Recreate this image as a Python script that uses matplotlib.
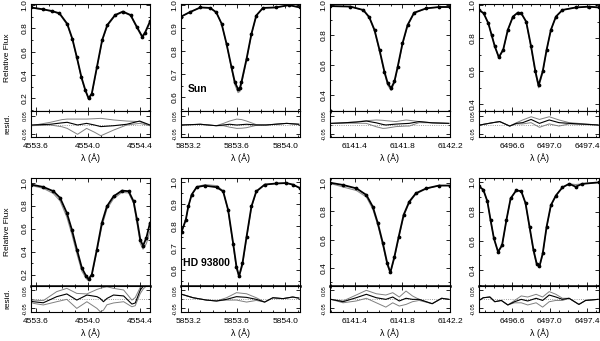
import matplotlib.pyplot as plt
from matplotlib.ticker import MultipleLocator

plt.rcParams['font.family'] = ['Liberation Sans', 'DejaVu Sans']

# ---- Sun: main panels (wavelength, observed flux, model flux)
sun_wl_1 = [4553.56, 4553.65, 4553.72, 4553.78, 4553.84, 4553.88, 4553.915, 4553.95, 4553.98,
            4554.005, 4554.03, 4554.07, 4554.11, 4554.15, 4554.21, 4554.27, 4554.33, 4554.38,
            4554.42, 4554.44, 4554.48]
sun_obs_1 = [0.98, 0.965, 0.95, 0.93, 0.84, 0.71, 0.55, 0.38, 0.27, 0.20, 0.24, 0.47, 0.70, 0.83,
             0.915, 0.945, 0.915, 0.81, 0.73, 0.76, 0.86]
sun_mod_1 = [0.978, 0.962, 0.947, 0.925, 0.83, 0.70, 0.54, 0.37, 0.26, 0.19, 0.23, 0.46, 0.69, 0.82,
             0.91, 0.94, 0.91, 0.80, 0.72, 0.75, 0.85]

sun_wl_2 = [5853.14, 5853.21, 5853.30, 5853.38, 5853.43, 5853.474, 5853.515, 5853.556, 5853.583,
            5853.61, 5853.625, 5853.638, 5853.68, 5853.72, 5853.76, 5853.815, 5853.92, 5854.03, 5854.12]
sun_obs_2 = [0.95, 0.969, 0.99, 0.988, 0.969, 0.92, 0.832, 0.73, 0.666, 0.635, 0.64, 0.666, 0.767,
             0.875, 0.955, 0.988, 0.99, 1.0, 0.99]
sun_mod_2 = [0.95, 0.969, 0.99, 0.988, 0.969, 0.92, 0.83, 0.725, 0.655, 0.62, 0.625, 0.655, 0.76,
             0.872, 0.955, 0.988, 0.99, 1.0, 0.99]

sun_wl_3 = [6141.19, 6141.36, 6141.47, 6141.52, 6141.565, 6141.607, 6141.648, 6141.676, 6141.704,
            6141.732, 6141.76, 6141.80, 6141.843, 6141.898, 6142.0, 6142.11, 6142.2]
sun_obs_3 = [0.993, 0.99, 0.967, 0.92, 0.833, 0.70, 0.556, 0.478, 0.445, 0.49, 0.589, 0.744, 0.867,
             0.949, 0.978, 0.987, 0.987]
sun_mod_3 = [0.993, 0.99, 0.965, 0.915, 0.825, 0.69, 0.545, 0.465, 0.43, 0.48, 0.58, 0.735, 0.86,
             0.945, 0.977, 0.987, 0.987]

sun_wl_4 = [6496.24, 6496.29, 6496.34, 6496.375, 6496.41, 6496.453, 6496.50, 6496.55, 6496.605,
            6496.658, 6496.694, 6496.747, 6496.80, 6496.846, 6496.88, 6496.925, 6496.967, 6497.013,
            6497.067, 6497.137, 6497.28, 6497.42, 6497.53]
sun_obs_4 = [0.97, 0.95, 0.89, 0.82, 0.75, 0.685, 0.73, 0.85, 0.93, 0.954, 0.95, 0.90, 0.75, 0.60,
             0.515, 0.60, 0.73, 0.85, 0.93, 0.97, 0.985, 0.99, 0.985]
sun_mod_4 = [0.97, 0.95, 0.89, 0.82, 0.75, 0.68, 0.725, 0.85, 0.93, 0.954, 0.95, 0.895, 0.74, 0.59,
             0.50, 0.59, 0.725, 0.85, 0.93, 0.97, 0.985, 0.99, 0.985]

# ---- HD 93800: main panels
hd_wl_1 = [4553.56, 4553.655, 4553.733, 4553.785, 4553.837, 4553.876, 4553.915, 4553.953, 4553.987,
           4554.005, 4554.03, 4554.069, 4554.108, 4554.147, 4554.198, 4554.263, 4554.315, 4554.353,
           4554.379, 4554.405, 4554.426, 4554.452, 4554.48]
hd_obs_1 = [0.983, 0.962, 0.925, 0.867, 0.736, 0.59, 0.417, 0.258, 0.185, 0.16, 0.20, 0.417, 0.65,
            0.794, 0.88, 0.93, 0.925, 0.837, 0.68, 0.504, 0.45, 0.52, 0.65]
hd_mod_1 = [0.975, 0.95, 0.905, 0.84, 0.70, 0.55, 0.38, 0.23, 0.165, 0.145, 0.19, 0.40, 0.62, 0.77,
            0.86, 0.915, 0.91, 0.82, 0.65, 0.47, 0.42, 0.47, 0.58]

hd_wl_2 = [5853.145, 5853.18, 5853.20, 5853.228, 5853.27, 5853.337, 5853.433, 5853.487, 5853.528,
           5853.57, 5853.597, 5853.618, 5853.646, 5853.68, 5853.72, 5853.76, 5853.83, 5853.925,
           5854.007, 5854.06, 5854.12]
hd_obs_2 = [0.775, 0.83, 0.89, 0.944, 0.979, 0.985, 0.978, 0.959, 0.875, 0.72, 0.615, 0.572, 0.63,
            0.752, 0.89, 0.959, 0.99, 0.995, 0.997, 0.99, 0.974]
hd_mod_2 = [0.775, 0.83, 0.89, 0.944, 0.98, 0.99, 0.985, 0.962, 0.87, 0.71, 0.605, 0.565, 0.62,
            0.745, 0.885, 0.957, 0.99, 0.995, 0.997, 0.99, 0.974]

hd_wl_3 = [6141.19, 6141.30, 6141.413, 6141.496, 6141.55, 6141.593, 6141.635, 6141.672, 6141.698,
           6141.732, 6141.768, 6141.81, 6141.857, 6141.913, 6142.0, 6142.107, 6142.2]
hd_obs_3 = [1.0, 0.984, 0.96, 0.914, 0.832, 0.715, 0.575, 0.434, 0.37, 0.48, 0.62, 0.775, 0.867,
            0.926, 0.96, 0.98, 0.98]
hd_mod_3 = [0.995, 0.97, 0.945, 0.90, 0.815, 0.70, 0.56, 0.42, 0.365, 0.47, 0.61, 0.765, 0.86,
            0.92, 0.958, 0.98, 0.98]

hd_wl_4 = [6496.24, 6496.286, 6496.33, 6496.364, 6496.40, 6496.445, 6496.488, 6496.535, 6496.58,
           6496.64, 6496.694, 6496.74, 6496.783, 6496.826, 6496.86, 6496.89, 6496.925, 6496.967,
           6497.013, 6497.067, 6497.137, 6497.21, 6497.28, 6497.35, 6497.53]
hd_obs_4 = [0.972, 0.95, 0.87, 0.743, 0.617, 0.524, 0.57, 0.743, 0.89, 0.945, 0.94, 0.858, 0.697,
            0.536, 0.444, 0.425, 0.513, 0.697, 0.844, 0.91, 0.966, 0.99, 0.97, 0.99, 1.0]
hd_mod_4 = [0.972, 0.95, 0.87, 0.743, 0.617, 0.52, 0.565, 0.74, 0.89, 0.945, 0.94, 0.855, 0.69,
            0.525, 0.435, 0.42, 0.505, 0.69, 0.84, 0.91, 0.966, 0.99, 0.985, 0.99, 1.0]

# ---- residuals (wavelength, middle model, upper, lower)
sun_rwl_1 = [4553.56, 4553.71, 4553.80, 4553.84, 4553.92, 4553.99, 4554.05, 4554.10, 4554.20,
             4554.30, 4554.40, 4554.48]
sun_rmid_1 = [0.0, 0.004, 0.012, 0.015, 0.0, 0.009, 0.0, -0.009, -0.004, 0.004, 0.022, 0.0]
sun_rup_1 = [-0.004, 0.015, 0.030, 0.033, 0.033, 0.033, 0.035, 0.037, 0.028, 0.022, 0.019, -0.004]
sun_rlo_1 = [-0.004, 0.0, -0.010, -0.019, -0.052, -0.019, -0.040, -0.060, -0.028, 0.0, 0.009, -0.004]

sun_rwl_2 = [5853.146, 5853.30, 5853.43, 5853.49, 5853.54, 5853.60, 5853.64, 5853.68, 5853.76,
             5853.84, 5854.01, 5854.11]
sun_rmid_2 = [0.0, 0.004, -0.004, 0.0, 0.004, 0.0, 0.002, 0.004, 0.0, 0.0, 0.009, 0.004]
sun_rup_2 = [0.0, 0.004, -0.004, 0.009, 0.022, 0.033, 0.030, 0.022, 0.002, 0.0, 0.009, 0.004]
sun_rlo_2 = [0.0, 0.004, -0.004, -0.004, -0.012, -0.019, -0.018, -0.015, -0.002, 0.0, 0.009, 0.004]

sun_rwl_3 = [6141.198, 6141.30, 6141.41, 6141.496, 6141.58, 6141.635, 6141.66, 6141.746, 6141.773,
             6141.83, 6141.857, 6141.94, 6142.05, 6142.19]
sun_rmid_3 = [0.009, 0.012, 0.016, 0.022, 0.012, 0.003, 0.0, 0.005, 0.006, 0.008, 0.009, 0.019,
              0.012, 0.009]
sun_rup_3 = [0.009, 0.012, 0.018, 0.024, 0.028, 0.026, 0.024, 0.019, 0.022, 0.028, 0.026, 0.019,
             0.012, 0.009]
sun_rlo_3 = [0.009, 0.010, 0.010, 0.009, -0.010, -0.019, -0.018, -0.009, -0.008, -0.006, -0.006,
             0.013, 0.012, 0.009]

sun_rwl_4 = [6496.25, 6496.39, 6496.463, 6496.57, 6496.64, 6496.71, 6496.80, 6496.89, 6496.995,
             6497.10, 6497.21, 6497.52]
sun_rmid_4 = [0.0, 0.013, 0.019, -0.006, 0.009, 0.013, 0.031, 0.009, 0.028, 0.013, 0.009, 0.0]
sun_rup_4 = [0.0, 0.013, 0.019, -0.006, 0.012, 0.028, 0.046, 0.031, 0.046, 0.028, 0.013, 0.0]
sun_rlo_4 = [0.0, 0.013, 0.019, -0.006, 0.006, 0.006, 0.013, -0.013, 0.006, -0.006, 0.006, 0.0]

hd_rwl_1 = [4553.56, 4553.578, 4553.655, 4553.759, 4553.837, 4553.914, 4553.992, 4554.07, 4554.095,
            4554.12, 4554.147, 4554.198, 4554.276, 4554.34, 4554.366, 4554.405, 4554.43, 4554.48]
hd_rmid_1 = [-0.01, -0.013, -0.019, 0.015, 0.030, -0.004, 0.024, 0.015, 0.005, -0.013, 0.005, 0.024,
             0.019, -0.026, -0.020, 0.052, 0.075, 0.09]
hd_rup_1 = [-0.005, -0.004, -0.007, 0.043, 0.061, 0.033, 0.030, 0.055, 0.061, 0.066, 0.070, 0.061,
            0.052, -0.004, 0.010, 0.067, 0.09, 0.1]
hd_rlo_1 = [-0.015, -0.022, -0.031, -0.013, 0.0, -0.050, -0.013, -0.050, -0.068, -0.06, -0.030,
            -0.020, -0.013, -0.041, -0.035, 0.033, 0.06, 0.09]

hd_rwl_2 = [5853.146, 5853.24, 5853.35, 5853.433, 5853.515, 5853.597, 5853.68, 5853.76, 5853.829,
            5853.897, 5853.98, 5854.06, 5854.11]
hd_rmid_2 = [0.028, 0.009, -0.004, -0.009, 0.0, 0.015, 0.011, 0.0, -0.015, 0.009, 0.004, 0.013, 0.007]
hd_rup_2 = [0.028, 0.009, -0.004, -0.009, 0.009, 0.037, 0.031, 0.009, -0.015, 0.009, 0.004, 0.013, 0.007]
hd_rlo_2 = [0.028, 0.009, -0.004, -0.009, -0.004, -0.004, -0.015, -0.006, -0.015, 0.009, 0.004, 0.013,
            0.007]

hd_rwl_3 = [6141.198, 6141.30, 6141.41, 6141.496, 6141.58, 6141.66, 6141.718, 6141.773, 6141.83,
            6141.884, 6141.94, 6142.05, 6142.13, 6142.19]
hd_rmid_3 = [0.0, -0.013, 0.009, 0.028, 0.009, 0.0, 0.013, -0.009, 0.006, 0.0, 0.0, -0.024, 0.006, 0.0]
hd_rup_3 = [0.0, -0.009, 0.024, 0.050, 0.031, 0.024, 0.037, 0.013, 0.046, 0.019, 0.0, -0.024, 0.006, 0.0]
hd_rlo_3 = [0.0, -0.019, -0.009, 0.006, -0.019, -0.043, -0.019, -0.037, -0.028, -0.013, -0.006,
            -0.024, 0.006, 0.0]

hd_rwl_4 = [6496.24, 6496.286, 6496.357, 6496.41, 6496.48, 6496.55, 6496.623, 6496.694, 6496.764,
            6496.854, 6496.924, 6496.995, 6497.067, 6497.137, 6497.208, 6497.314, 6497.386, 6497.52]
hd_rmid_4 = [-0.006, 0.009, 0.013, -0.013, -0.006, -0.031, -0.013, 0.0, -0.009, 0.006, -0.006, 0.024,
             0.013, 0.0, 0.006, -0.028, -0.006, 0.0]
hd_rup_4 = [-0.006, 0.009, 0.013, -0.013, -0.006, -0.031, -0.006, 0.019, 0.013, 0.028, 0.013, 0.043,
            0.028, 0.006, 0.006, -0.028, -0.006, 0.0]
hd_rlo_4 = [-0.006, 0.009, 0.013, -0.013, -0.006, -0.031, -0.019, -0.019, -0.031, -0.019, -0.043,
            -0.013, -0.006, -0.006, 0.006, -0.028, -0.006, 0.0]

star_names = ['Sun', 'HD 93800']
xticks = [[4553.6, 4554.0, 4554.4], [5853.2, 5853.6, 5854.0],
          [6141.4, 6141.8, 6142.2], [6496.6, 6497.0, 6497.4]]

main_data = [
    [(sun_wl_1, sun_obs_1, sun_mod_1), (sun_wl_2, sun_obs_2, sun_mod_2),
     (sun_wl_3, sun_obs_3, sun_mod_3), (sun_wl_4, sun_obs_4, sun_mod_4)],
    [(hd_wl_1, hd_obs_1, hd_mod_1), (hd_wl_2, hd_obs_2, hd_mod_2),
     (hd_wl_3, hd_obs_3, hd_mod_3), (hd_wl_4, hd_obs_4, hd_mod_4)],
]
resid_data = [
    [(sun_rwl_1, sun_rmid_1, sun_rup_1, sun_rlo_1), (sun_rwl_2, sun_rmid_2, sun_rup_2, sun_rlo_2),
     (sun_rwl_3, sun_rmid_3, sun_rup_3, sun_rlo_3), (sun_rwl_4, sun_rmid_4, sun_rup_4, sun_rlo_4)],
    [(hd_rwl_1, hd_rmid_1, hd_rup_1, hd_rlo_1), (hd_rwl_2, hd_rmid_2, hd_rup_2, hd_rlo_2),
     (hd_rwl_3, hd_rmid_3, hd_rup_3, hd_rlo_3), (hd_rwl_4, hd_rmid_4, hd_rup_4, hd_rlo_4)],
]

# layout in pixels
W, H = 600, 341
cols = [(31, 150), (181, 300), (330, 450), (479, 599)]
rows = [(4, 111, 137), (178, 286, 312)]
xlims = [(4553.56, 4554.48), (5853.14, 5854.12), (6141.19, 6142.2), (6496.24, 6497.53)]
ylims = [[(0.09, 1.01), (0.54, 1.005), (0.293, 1.007), (0.36, 1.006)],
         [(0.10, 1.04), (0.527, 1.02), (0.275, 1.033), (0.29, 1.03)]]
ysteps = [0.2, 0.1, 0.2, 0.2]
rlims = [(-0.067, 0.078), (-0.07, 0.074)]


def box(x0, y0, x1, y1):
    return [x0 / W, 1 - y1 / H, (x1 - x0) / W, (y1 - y0) / H]


def style(ax):
    ax.tick_params(which='both', direction='in', top=True, right=True, width=0.6, labelsize=6, pad=2)
    ax.tick_params(which='major', length=3)
    ax.tick_params(which='minor', length=1.5)
    for s in ax.spines.values():
        s.set_linewidth(0.8)


fig = plt.figure(figsize=(6, 3.41), dpi=100)

for r, (ytop, ymid, ybot) in enumerate(rows):
    for c, (x0, x1) in enumerate(cols):
        ax = fig.add_axes(box(x0, ytop, x1, ymid))
        wl, obs, mod = main_data[r][c]
        ax.plot(wl, mod, color='0.55', lw=0.8)
        ax.plot(wl, obs, color='k', lw=1.3, marker='o', ms=1.7)
        ax.set_xlim(xlims[c])
        ax.set_ylim(ylims[r][c])
        style(ax)
        ax.xaxis.set_major_locator(plt.FixedLocator(xticks[c]))
        ax.xaxis.set_minor_locator(MultipleLocator(0.1))
        ax.yaxis.set_major_locator(MultipleLocator(ysteps[c]))
        ax.yaxis.set_minor_locator(MultipleLocator(ysteps[c] / 2))
        ax.tick_params(axis='x', labelbottom=False)
        ax.tick_params(axis='y', labelrotation=90)
        for lab in ax.get_yticklabels():
            lab.set_va('center')
        if r == 1:
            ax.spines['bottom'].set_linewidth(1.8)
        if c == 1:
            ax.text(0.06 if r == 0 else 0.015, 0.21, star_names[r], transform=ax.transAxes,
                    fontsize=7.5, fontweight='bold', va='center', ha='left')

        axr = fig.add_axes(box(x0, ymid, x1, ybot))
        rwl, rmid, rup, rlo = resid_data[r][c]
        axr.axhline(0, color='0.5', ls=':', lw=0.6)
        axr.plot(rwl, rup, color='0.5', lw=0.7)
        axr.plot(rwl, rlo, color='0.5', lw=0.7)
        axr.plot(rwl, rmid, color='k', lw=0.8)
        axr.set_xlim(xlims[c])
        axr.set_ylim(rlims[r])
        style(axr)
        axr.xaxis.set_major_locator(plt.FixedLocator(xticks[c]))
        axr.xaxis.set_minor_locator(MultipleLocator(0.1))
        axr.set_yticks([-0.05, 0.05])
        axr.set_yticklabels(['-0.05', '0.05'])
        axr.yaxis.set_minor_locator(plt.FixedLocator([0.0]))
        axr.tick_params(axis='y', labelsize=4, labelrotation=90)
        for lab in axr.get_yticklabels():
            lab.set_va('center')
        axr.tick_params(axis='x', pad=4)
        axr.set_xlabel('λ (Å)', fontsize=6.5, labelpad=3)

    fig.text(8 / W, 1 - (ytop + ymid) / 2 / H, 'Relative Flux', rotation=90, fontsize=6,
             ha='center', va='center')
    fig.text(8 / W, 1 - (ymid + ybot) / 2 / H, 'resid.', rotation=90, fontsize=6,
             ha='center', va='center')

fig.savefig('out.png', dpi=100)
